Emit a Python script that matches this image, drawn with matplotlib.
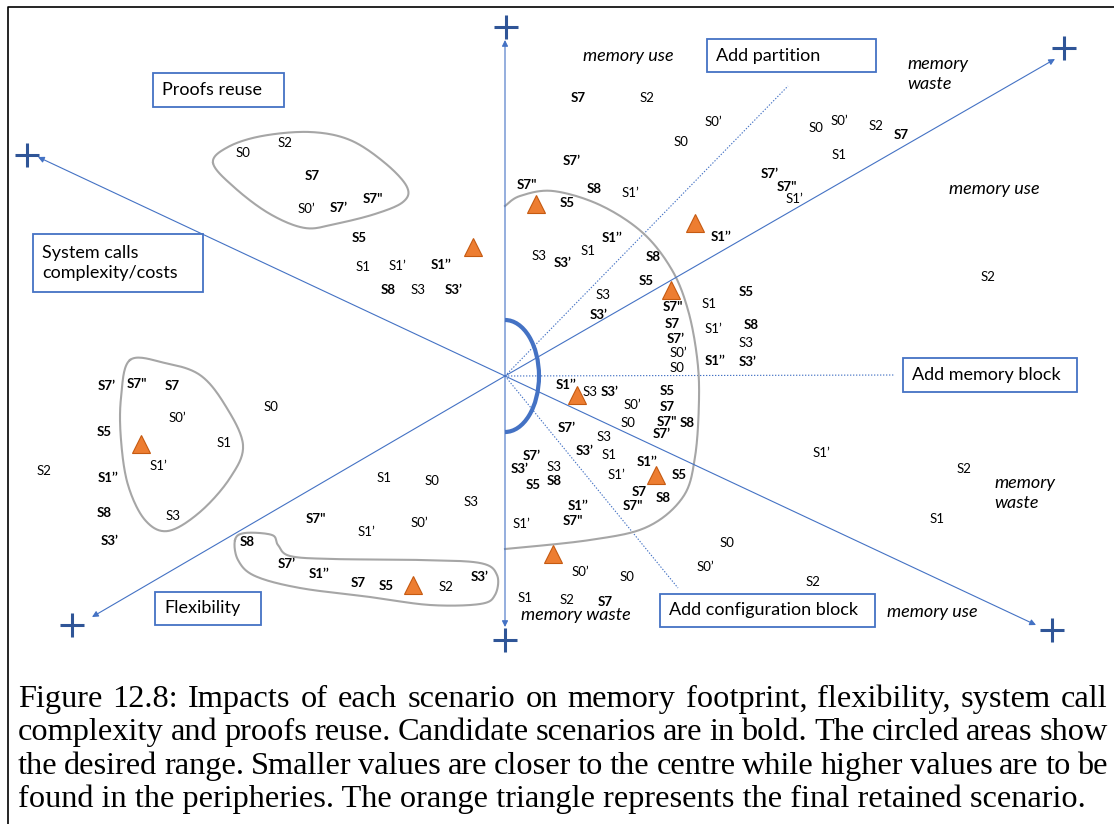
import numpy as np
import matplotlib
matplotlib.use("Agg")
import matplotlib.pyplot as plt
from matplotlib.patches import Rectangle, Arc

# Canvas in pixel units (y goes down like in the picture)
W, H = 1114, 824
centre = (505, 376)

# Axis ends (arrow tips) and the "+" marks beyond them
axis_tip_x = [505, 505, 38, 1055, 92, 1036]
axis_tip_y = [40, 627, 157, 59, 617, 625]
plus_x = [506, 505, 27, 1064, 72, 1052]
plus_y = [27, 640, 155, 48, 625, 630]

# Dotted guide lines towards the option boxes
guide_x = [788, 895, 678]
guide_y = [86, 375, 588]

# Boxed axis / option names
box_text = ["Proofs reuse", "System calls\ncomplexity/costs", "Add partition",
            "Add memory block", "Add configuration block", "Flexibility"]
box_x0 = [153, 33, 707, 903, 660, 155]
box_y0 = [73, 234, 39, 358, 594, 592]
box_x1 = [284, 203, 876, 1077, 875, 261]
box_y1 = [107, 292, 72, 392, 627, 625]

# Italic sector names
sector_text = ["memory use", "memory\nwaste", "memory use", "memory\nwaste",
               "memory use", "memory waste"]
sector_x = [583, 907, 949, 994, 887, 521]
sector_y = [56, 74, 189, 493, 612, 615]

# Scenario labels (text, x, y, candidate = bold)
lab_text = [
    # proofs reuse
    "S0", "S2", "S7", "S0’", "S7’", "S7\"", "S5", "S1", "S1’", "S1’’", "S8", "S3", "S3’",
    # add partition, memory use / waste
    "S7", "S2", "S0’", "S0", "S7’", "S7\"", "S8", "S1’", "S5",
    "S0", "S0’", "S2", "S7", "S1", "S7’", "S7\"", "S1’", "S1’’", "S2",
    "S1’’", "S1", "S3", "S3’", "S8", "S5", "S3", "S3’",
    "S7\"", "S1", "S7", "S1’", "S7’", "S0’", "S0", "S1’’", "S5", "S8", "S3", "S3’",
    # add memory block / configuration block
    "S1’’", "S3", "S3’", "S5", "S0’", "S7", "S0", "S7\"", "S8", "S7’", "S7’", "S3",
    "S3’", "S1", "S7’", "S3’", "S3", "S5", "S8", "S1’", "S1’’", "S5", "S7", "S8",
    "S7\"", "S1’’", "S7\"", "S1’", "S0’", "S0", "S1", "S2", "S7",
    "S1’", "S2", "S1", "S0", "S0’", "S2",
    # system calls
    "S7’", "S7\"", "S7", "S0’", "S0", "S5", "S1", "S1’", "S2", "S1’’", "S8", "S3", "S3’",
    # flexibility
    "S1", "S0", "S3", "S7\"", "S1’", "S0’", "S8", "S7’", "S1’’", "S7", "S5", "S2", "S3’",
]
lab_x = [
    243, 285, 312, 306, 339, 373, 359, 363, 397, 441, 388, 418, 454,
    578, 647, 713, 681, 572, 527, 594, 630, 567,
    816, 839, 876, 901, 839, 770, 787, 794, 721, 988,
    612, 588, 539, 563, 653, 646, 603, 599,
    673, 709, 672, 713, 676, 678, 677, 715, 746, 751, 746, 748,
    566, 590, 610, 667, 632, 667, 628, 667, 687, 662, 567, 604,
    585, 609, 532, 520, 554, 533, 554, 616, 647, 679, 639, 663,
    633, 578, 573, 521, 580, 627, 525, 567, 605,
    821, 964, 937, 727, 705, 813,
    107, 137, 172, 177, 271, 104, 224, 158, 44, 108, 104, 173, 110,
    384, 432, 471, 316, 366, 419, 247, 287, 319, 358, 386, 446, 480,
]
lab_y = [
    153, 143, 176, 209, 208, 199, 238, 267, 266, 265, 290, 290, 290,
    98, 98, 122, 142, 161, 185, 189, 193, 203,
    128, 121, 126, 135, 155, 174, 187, 199, 237, 277,
    238, 251, 256, 263, 257, 281, 295, 315,
    307, 304, 324, 329, 339, 353, 368, 361, 292, 325, 343, 362,
    385, 392, 392, 391, 405, 407, 423, 422, 423, 434, 428, 437,
    451, 455, 456, 469, 467, 485, 481, 475, 462, 475, 492, 498,
    506, 506, 521, 524, 572, 577, 598, 600, 602,
    453, 469, 519, 543, 567, 582,
    386, 384, 386, 418, 407, 432, 443, 466, 471, 478, 513, 516, 541,
    478, 481, 502, 519, 532, 523, 542, 564, 574, 583, 586, 587, 577,
]
lab_bold = [
    0, 0, 1, 0, 1, 1, 1, 0, 0, 1, 1, 0, 1,
    1, 0, 0, 0, 1, 1, 1, 0, 1,
    0, 0, 0, 1, 0, 1, 1, 0, 1, 0,
    1, 0, 0, 1, 1, 1, 0, 1,
    1, 0, 1, 0, 1, 0, 0, 1, 1, 1, 0, 1,
    1, 0, 1, 1, 0, 1, 0, 1, 1, 1, 1, 0,
    1, 0, 1, 1, 0, 1, 1, 0, 1, 1, 1, 1,
    1, 1, 1, 0, 0, 0, 0, 0, 1,
    0, 0, 0, 0, 0, 0,
    1, 1, 1, 0, 0, 1, 0, 0, 0, 1, 1, 0, 1,
    0, 0, 0, 1, 0, 0, 1, 1, 1, 1, 1, 0, 1,
]

# Retained scenario (orange triangles)
tri_x = [473, 536, 695, 671, 577, 656, 553, 141, 413]
tri_y = [247, 204, 223, 290, 395, 475, 554, 444, 585]

# Outlines of the desired ranges (control points, smoothed below)
blob_proofs = [(213, 163), (228, 147), (262, 136), (310, 132), (350, 140), (385, 163),
               (407, 187), (403, 202), (375, 214), (335, 224), (305, 228), (270, 214), (235, 188)]
blob_syscalls = [(130, 360), (165, 363), (200, 375), (225, 405), (243, 445), (230, 478),
                 (200, 512), (168, 531), (145, 520), (128, 485), (121, 440), (121, 398)]
blob_flex = [(235, 540), (245, 533), (272, 535), (278, 545), (290, 556), (333, 559), (420, 560),
             (480, 563), (497, 575), (495, 595), (480, 604), (430, 605), (370, 597), (300, 588),
             (255, 576), (238, 560)]
curve_memory = [(505, 206), (520, 196), (553, 191), (600, 205), (643, 233), (672, 270),
                (688, 310), (697, 357), (699, 400), (695, 457), (683, 497), (647, 527),
                (590, 540), (505, 549)]

caption = [
    "Figure 12.8: Impacts of each scenario on memory footprint, flexibility, system call",
    "complexity and proofs reuse. Candidate scenarios are in bold. The circled areas show",
    "the desired range. Smaller values are closer to the centre while higher values are to be",
    "found in the peripheries. The orange triangle represents the final retained scenario.",
]
caption_base = [707, 740, 774, 807]
caption_x0 = 18
caption_x1 = 1108
last_line_end = 1088

blue = "#4472C4"
dark_blue = "#2F5597"
grey = "#A6A6A6"
sans = ["Lato", "DejaVu Sans"]
serif = ["Liberation Serif", "DejaVu Serif"]


def smooth(pts, closed, n=20):
    # Catmull-Rom spline through the control points
    P = np.array(pts, float)
    if closed:
        P = np.vstack([P[-1], P, P[0], P[1]])
    else:
        P = np.vstack([P[0], P, P[-1]])
    t = np.linspace(0, 1, n, endpoint=False)[:, None]
    out = []
    for i in range(1, len(P) - 2):
        p0, p1, p2, p3 = P[i - 1], P[i], P[i + 1], P[i + 2]
        out.append(0.5 * (2 * p1 + (-p0 + p2) * t + (2 * p0 - 5 * p1 + 4 * p2 - p3) * t ** 2
                          + (-p0 + 3 * p1 - 3 * p2 + p3) * t ** 3))
    out.append(P[-2][None])
    return np.vstack(out)


fig = plt.figure(figsize=(W / 100, H / 100), dpi=100)
ax = fig.add_axes([0, 0, 1, 1])
ax.set_xlim(0, W)
ax.set_ylim(H, 0)
ax.axis("off")

# frame
ax.plot([8, 8, W], [H, 7, 7], color="black", lw=1.2)

# axes with arrows
for tx, ty in zip(axis_tip_x, axis_tip_y):
    ax.annotate("", xy=(tx, ty), xytext=centre,
                arrowprops=dict(arrowstyle="-|>", color=blue, lw=0.8, mutation_scale=9,
                                shrinkA=0, shrinkB=0))
ax.plot(plus_x, plus_y, ls="none", marker="+", ms=17, mew=2.2, color=dark_blue)

for gx, gy in zip(guide_x, guide_y):
    ax.plot([centre[0], gx], [centre[1], gy], color=blue, lw=0.8, ls=(0, (1.2, 1.5)))

# small half ellipse at the centre
ax.add_patch(Arc(centre, 68, 112, theta1=-90, theta2=90, color=blue, lw=3))

# desired ranges
for pts, closed in [(blob_proofs, True), (blob_syscalls, True), (blob_flex, True),
                    (curve_memory, False)]:
    c = smooth(pts, closed)
    ax.plot(c[:, 0], c[:, 1], color=grey, lw=1.5)

# boxes
for t, x0, y0, x1, y1 in zip(box_text, box_x0, box_y0, box_x1, box_y1):
    ax.add_patch(Rectangle((x0, y0), x1 - x0, y1 - y0, facecolor="white",
                           edgecolor=blue, lw=1.3, zorder=3))
    ax.text(x0 + 9, (y0 + y1) / 2, t, ha="left", va="center", fontsize=13,
            family=sans, linespacing=1.25, zorder=4)

for t, x, y in zip(sector_text, sector_x, sector_y):
    ax.text(x, y, t, ha="left", va="center", fontsize=13, style="italic",
            family=sans, linespacing=1.25)

for t, x, y, b in zip(lab_text, lab_x, lab_y, lab_bold):
    ax.text(x, y, t, ha="center", va="center", fontsize=9.5, family=sans,
            weight="bold" if b else "normal", zorder=5)

ax.plot(tri_x, tri_y, ls="none", marker="^", ms=13, color="#ED7D31",
        mec="#C55A11", mew=0.8, zorder=6)

# caption: size taken from the last (unjustified) line, the others justified word by word
renderer = fig.canvas.get_renderer()
probe = ax.text(0, 0, caption[-1], fontsize=20, family=serif)
cap_size = 20 * (last_line_end - caption_x0) / probe.get_window_extent(renderer).width
probe.remove()

for k, (line, y) in enumerate(zip(caption, caption_base)):
    if k == len(caption) - 1:
        ax.text(caption_x0, y, line, ha="left", va="baseline", fontsize=cap_size, family=serif)
        continue
    words = line.split(" ")
    texts = [ax.text(0, y, w, ha="left", va="baseline", fontsize=cap_size, family=serif)
             for w in words]
    widths = [t.get_window_extent(renderer).width for t in texts]
    gap = (caption_x1 - caption_x0 - sum(widths)) / (len(words) - 1)
    x = caption_x0
    for t, w in zip(texts, widths):
        t.set_x(x)
        x += w + gap

fig.savefig("out.png", dpi=100)
